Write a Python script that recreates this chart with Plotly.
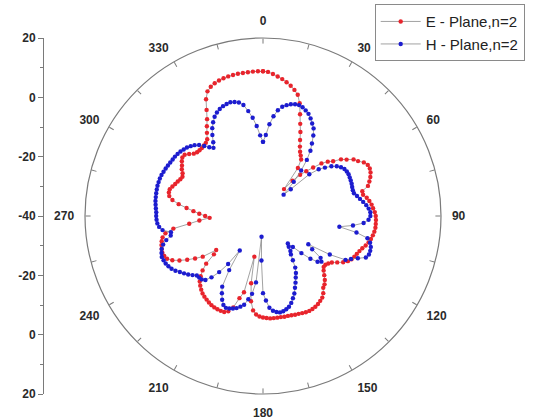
import plotly.graph_objects as go

# Angular positions (degrees, clockwise from top) shared by both cuts
angles = list(range(0, 360, 2))

# E-plane gain pattern (dB), n=2
e_plane = [
    8.8, 8.6, 8.0, 7.3, 6.6, 5.8, 4.9, 3.8, 2.5, 0.0,
    -3.5, -6.5, -9.0, -11.5, -13.5, -15.0, -16.0, -17.0, -20.0, -28.5,
    -24.5, -21.3, -19.0, -16.5, -13.5, -11.5, -10.0, -7.5, -6.0, -4.0,
    -3.0, -1.5, -0.7, -0.6, -0.9, -1.5, -2.3, -3.2, -5.5, -5.5,
    -4.5, -3.8, -3.2, -2.8, -2.3, -2.0, -1.9, -1.9, -1.9, -2.1,
    -2.4, -2.8, -3.3, -4.0, -4.8, -5.4, -5.9, -6.3, -6.8, -7.6,
    -8.8, -10.5, -12.0, -12.8, -13.3, -13.3, -12.5, -11.3, -10.0, -9.0,
    -8.4, -7.0, -6.0, -5.5, -5.0, -4.7, -4.5, -4.4, -4.5, -4.7,
    -4.9, -5.0, -5.2, -5.3, -5.3, -5.4, -5.4, -5.4, -5.4, -5.6,
    -5.8, -6.1, -6.7, -8.0, -11.0, -17.0, -26.0, -13.5, -11.2, -7.6,
    -5.8, -5.1, -5.0, -5.0, -5.1, -5.3, -5.6, -6.0, -6.4, -6.9,
    -7.6, -8.4, -9.3, -10.8, -12.6, -15.0, -19.0, -20.5, -15.5, -13.0,
    -10.5, -8.1, -6.0, -4.6, -4.1, -3.9, -4.1, -4.4, -4.8, -5.4,
    -6.6, -9.5, -15.0, -18.5, -22.0, -20.5, -18.5, -16.5, -14.1, -11.3,
    -9.0, -7.7, -7.3, -7.3, -7.9, -8.5, -9.0, -9.5, -9.8, -9.3,
    -8.4, -7.8, -7.0, -6.4, -6.5, -7.5, -8.6, -9.1, -9.2, -9.2,
    -9.0, -8.7, -8.0, -6.2, -4.3, -2.3, 0.5, 3.8, 6.0, 7.0,
    7.6, 8.0, 8.3, 8.5, 8.6, 8.7, 8.7, 8.7, 8.8, 8.8,
]

# H-plane gain pattern (dB), n=2
h_plane = [
    -15.0, -12.7, -9.0, -6.2, -4.0, -2.6, -1.8, -1.2, -0.8, -0.7,
    -1.0, -1.6, -2.3, -3.4, -4.7, -5.9, -8.0, -10.5, -12.8, -16.0,
    -20.0, -24.5, -30.0, -27.0, -19.0, -15.5, -13.5, -11.5, -10.0, -9.0,
    -8.3, -8.0, -7.9, -8.0, -8.1, -8.2, -8.4, -8.5, -8.4, -7.6,
    -6.8, -5.9, -5.0, -4.3, -3.8, -3.8, -4.4, -6.0, -9.5, -14.0,
    -8.0, -4.0, -2.8, -2.2, -2.0, -2.0, -2.6, -5.0, -7.0, -8.5,
    -14.0, -22.0, -20.0, -16.0, -15.0, -16.0, -18.5, -22.0, -25.5, -27.5,
    -26.5, -25.0, -24.0, -22.0, -19.5, -17.8, -16.5, -15.0, -13.5, -11.8,
    -10.5, -9.2, -8.2, -7.6, -7.2, -7.0, -7.3, -7.9, -9.0, -11.5,
    -14.0, -25.0, -33.0, -17.5, -13.5, -11.5, -9.4, -8.5, -7.7, -7.2,
    -6.8, -6.6, -7.2, -8.6, -10.5, -12.5, -18.5, -26.0, -20.0, -16.0,
    -13.0, -11.0, -10.3, -10.1, -10.0, -9.0, -8.0, -7.1, -6.2, -5.2,
    -4.4, -3.9, -3.5, -3.3, -3.2, -3.6, -4.1, -5.0, -6.4, -8.2,
    -8.5, -5.8, -4.8, -4.3, -4.1, -4.0, -4.0, -3.8, -3.6, -3.4,
    -3.3, -3.2, -3.1, -3.0, -3.0, -3.0, -3.1, -3.3, -3.5, -3.7,
    -3.9, -4.1, -4.2, -4.4, -4.7, -5.1, -5.5, -6.1, -6.8, -7.8,
    -9.2, -10.6, -11.6, -10.0, -7.8, -5.8, -4.2, -2.8, -1.8, -1.1,
    -0.6, -0.3, -0.1, -0.4, -0.9, -2.0, -4.3, -6.7, -9.6, -12.8,
]

series_names = ["E - Plane,n=2", "H - Plane,n=2"]
series_colors = ["#e8242c", "#1c1ccf"]

# Angular tick marks every 15 deg, labelled every 30 deg
angle_ticks = list(range(0, 360, 15))
angle_label_vals = list(range(0, 360, 30))
angle_labels = [str(a) for a in angle_label_vals]

# Mirrored radial scale drawn on the left (-40 dB at the centre)
r_min, r_max = -40, 20
radial_tick_pos = [-60, -40, -20, 0, 20, 40, 60]
radial_tick_text = ["20", "0", "-20", "-40", "-20", "0", "20"]

W, H = 533, 419
cx, cy, R = 263, 216, 178
dom_x = [(cx - R) / W, (cx + R) / W]
dom_y = [(H - cy - R) / H, (H - cy + R) / H]

axis_grey = "#7a7a7a"
tick_font = dict(family="Liberation Sans, Arial, sans-serif", size=12,
                 color="#2a2a2a", weight="bold")

fig = go.Figure()

for name, vals, col in zip(series_names, [e_plane, h_plane], series_colors):
    fig.add_trace(go.Scatterpolar(
        r=vals + vals[:1],
        theta=angles + angles[:1],
        mode="lines+markers",
        name=name,
        line=dict(color="#8a8a8a", width=0.8),
        marker=dict(color=col, size=4.4),
        hoverinfo="skip",
        subplot="polar",
    ))

# Empty trace so the label-carrying polar frame is built
fig.add_trace(go.Scatterpolar(r=[None], theta=[None], showlegend=False,
                              hoverinfo="skip", subplot="polar2"))

# Carrier trace for the left-hand radial scale
fig.add_trace(go.Scatter(
    x=[0], y=[0], mode="markers", marker=dict(opacity=0),
    showlegend=False, hoverinfo="skip", xaxis="x", yaxis="y",
))

fig.update_layout(
    width=W, height=H,
    margin=dict(l=0, r=0, t=0, b=0, autoexpand=False),
    paper_bgcolor="white",
    plot_bgcolor="rgba(0,0,0,0)",
    showlegend=True,
    legend=dict(
        x=0.703, y=0.99, xanchor="left", yanchor="top",
        bgcolor="white", bordercolor="#8a8a8a", borderwidth=1,
        font=dict(family="Liberation Sans, Arial, sans-serif", size=15, color="#222"),
        itemwidth=40, tracegroupgap=0,
    ),
    # Frame with inward ticks and the outer circle
    polar=dict(
        domain=dict(x=dom_x, y=dom_y),
        bgcolor="white",
        radialaxis=dict(range=[r_min, r_max], visible=False, showgrid=False),
        angularaxis=dict(
            rotation=90, direction="clockwise",
            tickmode="array", tickvals=angle_ticks, showticklabels=False,
            ticks="inside", ticklen=5, tickcolor=axis_grey, tickwidth=1,
            showline=True, linecolor=axis_grey, linewidth=1.2,
            showgrid=False,
        ),
    ),
    # Same frame, used only to place the angle labels a little outside the circle
    polar2=dict(
        domain=dict(x=dom_x, y=dom_y),
        bgcolor="rgba(0,0,0,0)",
        radialaxis=dict(range=[r_min, r_max], visible=False, showgrid=False),
        angularaxis=dict(
            rotation=90, direction="clockwise",
            tickmode="array", tickvals=angle_label_vals, ticktext=angle_labels,
            ticks="outside", ticklen=8, tickcolor="rgba(0,0,0,0)",
            showline=False, showgrid=False, tickfont=tick_font,
        ),
    ),
    xaxis=dict(domain=[0.0, 0.0807], visible=False, range=[0, 1], fixedrange=True),
    yaxis=dict(
        domain=dom_y, range=[-60, 60], anchor="free", position=0.0807, side="left",
        automargin=False,
        tickmode="array", tickvals=radial_tick_pos, ticktext=radial_tick_text,
        ticks="outside", ticklen=5, tickcolor=axis_grey,
        showline=True, linecolor=axis_grey, linewidth=1,
        showgrid=False, zeroline=False, tickfont=tick_font,
        minor=dict(tickvals=[-50, -30, -10, 10, 30, 50], ticks="outside", ticklen=3,
                   tickcolor=axis_grey, showgrid=False),
        fixedrange=True,
    ),
)

fig.write_html("out.html")
